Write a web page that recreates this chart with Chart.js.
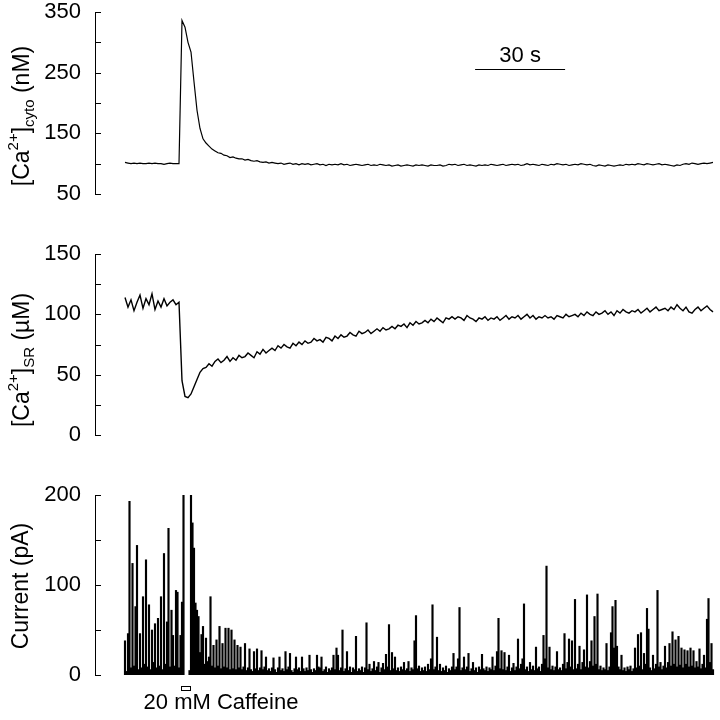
<!DOCTYPE html>
<html>
<head>
<meta charset="utf-8">
<script src="https://cdn.jsdelivr.net/npm/chart.js@4.4.1/dist/chart.umd.min.js"></script>
<style>
  html, body { margin:0; padding:0; background:#fff; }
  #wrap { position:relative; width:720px; height:720px; }
  #wrap canvas { position:absolute; left:0; top:0; }
</style>
</head>
<body>
<div id="wrap">
  <canvas id="cytoChart" width="720" height="720"></canvas>
  <canvas id="srChart" width="720" height="720"></canvas>
  <canvas id="currentChart" width="720" height="720"></canvas>
</div>
<script>
// time axis (s)
const tMin = -10, tMax = 197;

// cytosolic Ca2+ (nM), one sample per second
const cytoStep = 1;
const cytoCa = [
  102, 101, 100, 101, 100, 101, 100, 100, 101, 100,
  101, 100, 100, 99, 100, 101, 100, 100, 100, 336,
  325, 300, 284, 235, 188, 158, 141, 134, 129, 124,
  121, 118, 117, 114, 113, 110, 111, 109, 108, 108,
  106, 107, 105, 104, 105, 103, 102, 103, 101, 102,
  101, 100, 101, 99, 100, 101, 99, 100, 98, 100,
  99, 100, 98, 99, 100, 98, 99, 97, 99, 98,
  99, 98, 100, 98, 99, 97, 98, 99, 98, 97,
  98, 99, 97, 98, 97, 99, 98, 97, 98, 96,
  97, 98, 96, 97, 98, 97, 96, 98, 97, 98,
  97, 96, 98, 97, 97, 98, 96, 97, 99, 98,
  99, 97, 98, 99, 97, 98, 97, 96, 98, 97,
  98, 97, 99, 98, 97, 98, 99, 97, 98, 99,
  98, 99, 97, 98, 100, 98, 99, 98, 97, 99,
  98, 97, 99, 98, 100, 99, 98, 99, 97, 98,
  99, 98, 100, 99, 98, 99, 97, 96, 98, 97,
  96, 98, 97, 96, 97, 98, 97, 99, 98, 99,
  98, 100, 99, 98, 100, 99, 98, 99, 100, 98,
  99, 98, 97, 96, 98, 97, 99, 100, 99, 101,
  100, 99, 100, 101, 100, 101, 102
];

// SR Ca2+ (uM), one sample per second
const srStep = 1;
const srCa = [
  114, 106, 112, 103, 110, 116, 105, 113, 108, 117,
  104, 111, 106, 113, 107, 110, 112, 108, 110, 45,
  32, 31, 34, 40, 46, 52, 55, 56, 59, 57,
  61, 63, 60, 62, 65, 61, 64, 62, 66, 64,
  65, 68, 66, 64, 69, 67, 71, 68, 70, 72,
  70, 74, 72, 75, 73, 72, 76, 74, 77, 75,
  78, 76, 77, 80, 78, 79, 77, 81, 80, 78,
  82, 80, 83, 81, 82, 85, 83, 82, 86, 84,
  85, 87, 84, 86, 88, 86, 89, 87, 88, 90,
  88, 91, 90, 92, 89, 93, 91, 94, 92, 93,
  95, 93, 96, 94, 97, 95, 93, 97, 96, 98,
  96, 98, 97, 95, 99, 97, 96, 94, 97, 96,
  98, 95, 97, 96, 98, 95, 97, 99, 96, 98,
  97, 99, 96, 98, 100, 97, 99, 96, 98, 97,
  99, 97, 98, 96, 99, 98, 97, 100, 98, 99,
  100, 98, 101, 99, 102, 100, 99, 102, 100, 101,
  103, 100, 102, 99, 103, 101, 104, 102, 101, 103,
  102, 104, 101, 103, 105, 102, 104, 106, 103, 104,
  105, 103, 106, 104, 108, 105, 103, 106, 102, 101,
  104, 106, 103, 105, 107, 104, 102
];

// channel current (pA), two samples per second, null = not recorded
const currentStep = 0.5;
const current = [
  38, 4, 46, 193, 8, 124, 10, 76, 144, 6, 46, 8, 87, 12, 128, 9, 78, 6, 50, 14,
  57, 8, 63, 10, 87, 6, 135, 12, 59, 163, 9, 72, 44, 10, 94, 92, 8, 44, 81, 200,
  null, null, null, 5, 200, 169, 141, 80, 72, 65, 25, 45, 54, 12, 41, 15, 20, 87, 10, 33,
  8, 39, 10, 54, 7, 35, 9, 52, 8, 52, 6, 50, 7, 39, 6, 33, 8, 31, 6, 9,
  35, 5, 8, 29, 6, 4, 26, 7, 29, 5, 8, 27, 6, 9, 20, 5, 7, 4, 8, 19,
  6, 3, 8, 20, 5, 7, 4, 26, 6, 9, 24, 5, 3, 7, 20, 6, 8, 4, 20, 7,
  4, 8, 5, 22, 6, 3, 7, 5, 22, 9, 8, 20, 4, 6, 9, 3, 7, 5, 8, 22,
  6, 30, 22, 5, 8, 50, 4, 7, 26, 5, 9, 3, 8, 6, 43, 4, 7, 5, 9, 3,
  8, 58, 6, 12, 4, 7, 15, 5, 9, 14, 3, 8, 13, 6, 23, 9, 56, 5, 25, 7,
  20, 5, 8, 4, 9, 6, 14, 5, 7, 15, 4, 8, 6, 38, 66, 7, 10, 4, 8, 5,
  9, 4, 12, 6, 18, 78, 6, 9, 42, 5, 12, 4, 8, 5, 10, 3, 7, 5, 9, 24,
  6, 9, 18, 75, 5, 8, 20, 6, 9, 24, 4, 7, 14, 5, 8, 3, 9, 6, 23, 7,
  5, 9, 4, 8, 6, 20, 5, 10, 26, 63, 7, 27, 6, 25, 5, 9, 22, 4, 8, 13,
  5, 9, 40, 7, 12, 18, 79, 6, 9, 4, 14, 6, 10, 5, 31, 7, 9, 4, 12, 44,
  18, 121, 8, 31, 6, 10, 5, 9, 26, 6, 8, 5, 12, 46, 7, 14, 40, 9, 38, 6,
  84, 7, 12, 32, 6, 14, 28, 9, 89, 8, 15, 38, 10, 65, 12, 90, 6, 10, 5, 8,
  6, 35, 5, 9, 47, 76, 30, 83, 32, 9, 6, 22, 5, 8, 4, 9, 6, 10, 4, 7,
  30, 8, 45, 10, 47, 6, 24, 12, 74, 51, 8, 5, 22, 7, 12, 94, 9, 14, 6, 10,
  32, 8, 14, 35, 10, 48, 12, 39, 9, 43, 11, 30, 8, 28, 12, 27, 9, 30, 10, 27,
  8, 15, 9, 29, 7, 12, 22, 8, 62, 85, 14, 35, 6
];

// y ticks (all marks) and the ones that get a label
const cytoTicks = [50, 100, 150, 200, 250, 300, 350];
const cytoTickLabels = [50, 150, 250, 350];
const srTicks = [0, 25, 50, 75, 100, 125, 150];
const srTickLabels = [0, 50, 100, 150];
const currentTicks = [0, 50, 100, 150, 200];
const currentTickLabels = [0, 100, 200];

// annotations
const scaleBarStart = 116.7, scaleBarLength = 30, scaleBarLevel = 256, scaleBarText = '30 s';
const caffeineStart = 18.7, caffeineEnd = 21.7, caffeineText = '20 mM Caffeine', caffeineTextAt = 32;

const FONT = "'Liberation Sans', Arial, Helvetica, sans-serif";

function toPoints(values, step){
  return values.map((v, i) => ({x: i * step, y: v}));
}

const innerTicks = {
  id: 'innerTicks',
  afterDraw(chart, args, opts){
    const y = chart.scales.y, ctx = chart.ctx, left = chart.chartArea.left;
    ctx.save();
    ctx.strokeStyle = '#000';
    ctx.lineWidth = 1;
    opts.values.forEach(v => {
      const py = Math.round(y.getPixelForValue(v)) + 0.5;
      ctx.beginPath();
      ctx.moveTo(left, py);
      ctx.lineTo(left + 6, py);
      ctx.stroke();
    });
    ctx.restore();
  }
};

function titlePlugin(parts, cx, cy){
  return {
    id: 'yTitle',
    afterDraw(chart){
      const ctx = chart.ctx;
      const big = '23px ' + FONT, small = '15px ' + FONT;
      ctx.save();
      let total = 0;
      parts.forEach(p => { ctx.font = p[1] ? small : big; total += ctx.measureText(p[0]).width; });
      ctx.translate(cx, cy);
      ctx.rotate(-Math.PI / 2);
      ctx.fillStyle = '#000';
      ctx.textAlign = 'left';
      ctx.textBaseline = 'alphabetic';
      let x = -total / 2;
      parts.forEach(p => {
        ctx.font = p[1] ? small : big;
        const dy = p[1] === 'sup' ? -11 : p[1] === 'sub' ? 5 : 0;
        ctx.fillText(p[0], x, dy);
        x += ctx.measureText(p[0]).width;
      });
      ctx.restore();
    }
  };
}

const scaleBar = {
  id: 'scaleBar',
  afterDraw(chart){
    const ctx = chart.ctx, xs = chart.scales.x, ys = chart.scales.y;
    const x1 = xs.getPixelForValue(scaleBarStart), x2 = xs.getPixelForValue(scaleBarStart + scaleBarLength);
    const py = Math.round(ys.getPixelForValue(scaleBarLevel)) + 0.5;
    ctx.save();
    ctx.strokeStyle = '#000';
    ctx.lineWidth = 1;
    ctx.beginPath();
    ctx.moveTo(x1, py);
    ctx.lineTo(x2, py);
    ctx.stroke();
    ctx.fillStyle = '#000';
    ctx.font = '22px ' + FONT;
    ctx.textAlign = 'center';
    ctx.textBaseline = 'alphabetic';
    ctx.fillText(scaleBarText, (x1 + x2) / 2, py - 8);
    ctx.restore();
  }
};

const caffeineMark = {
  id: 'caffeineMark',
  afterDraw(chart){
    const ctx = chart.ctx, xs = chart.scales.x, bottom = chart.chartArea.bottom;
    const x1 = Math.round(xs.getPixelForValue(caffeineStart)) + 0.5;
    const x2 = Math.round(xs.getPixelForValue(caffeineEnd)) + 0.5;
    ctx.save();
    ctx.strokeStyle = '#000';
    ctx.lineWidth = 1;
    ctx.strokeRect(x1, bottom + 11.5, x2 - x1, 4);
    ctx.fillStyle = '#000';
    ctx.font = '22px ' + FONT;
    ctx.textAlign = 'center';
    ctx.textBaseline = 'alphabetic';
    ctx.fillText(caffeineText, xs.getPixelForValue(caffeineTextAt), bottom + 34);
    ctx.restore();
  }
};

function panelOptions(padTop, padBottom, yMin, yMax, ticks, labels){
  return {
    responsive: false,
    animation: false,
    events: [],
    layout: {padding: {top: padTop, bottom: padBottom, left: 0, right: 4}},
    plugins: {
      legend: {display: false},
      tooltip: {enabled: false},
      innerTicks: {values: ticks}
    },
    scales: {
      x: {type: 'linear', display: false, offset: false, min: tMin, max: tMax},
      y: {
        type: 'linear',
        min: yMin, max: yMax,
        afterFit: s => { s.width = 95; s.paddingTop = 0; s.paddingBottom = 0; },
        afterBuildTicks: s => { s.ticks = labels.map(v => ({value: v})); },
        grid: {display: false, drawTicks: false},
        border: {display: true, color: '#000', width: 1},
        ticks: {color: '#000', padding: 14, font: {family: FONT, size: 22}}
      }
    }
  };
}

function lineSet(points, width){
  return {
    data: points,
    borderColor: '#000',
    borderWidth: width,
    pointRadius: 0,
    tension: 0,
    spanGaps: false,
    fill: false
  };
}

new Chart(document.getElementById('cytoChart'), {
  type: 'line',
  data: {datasets: [lineSet(toPoints(cytoCa, cytoStep), 1.2)]},
  options: panelOptions(12, 720 - 194, 50, 350, cytoTicks, cytoTickLabels),
  plugins: [innerTicks, scaleBar,
    titlePlugin([['[Ca', ''], ['2+', 'sup'], [']', ''], ['cyto', 'sub'], [' (nM)', '']], 29, 116)]
});

new Chart(document.getElementById('srChart'), {
  type: 'line',
  data: {datasets: [lineSet(toPoints(srCa, srStep), 1.4)]},
  options: panelOptions(254, 720 - 435, 0, 150, srTicks, srTickLabels),
  plugins: [innerTicks,
    titlePlugin([['[Ca', ''], ['2+', 'sup'], [']', ''], ['SR', 'sub'], [' (\u00b5M)', '']], 29, 360)]
});

// current trace: each sample drawn as a thin vertical stroke from zero
new Chart(document.getElementById('currentChart'), {
  type: 'bar',
  data: {datasets: [{
    data: toPoints(current, currentStep),
    backgroundColor: '#000',
    borderWidth: 0,
    barThickness: 1.5,
    grouped: false
  }]},
  options: panelOptions(495, 720 - 675, 0, 200, currentTicks, currentTickLabels),
  plugins: [innerTicks, caffeineMark,
    titlePlugin([['Current (pA)', '']], 28, 586)]
});
</script>
</body>
</html>
